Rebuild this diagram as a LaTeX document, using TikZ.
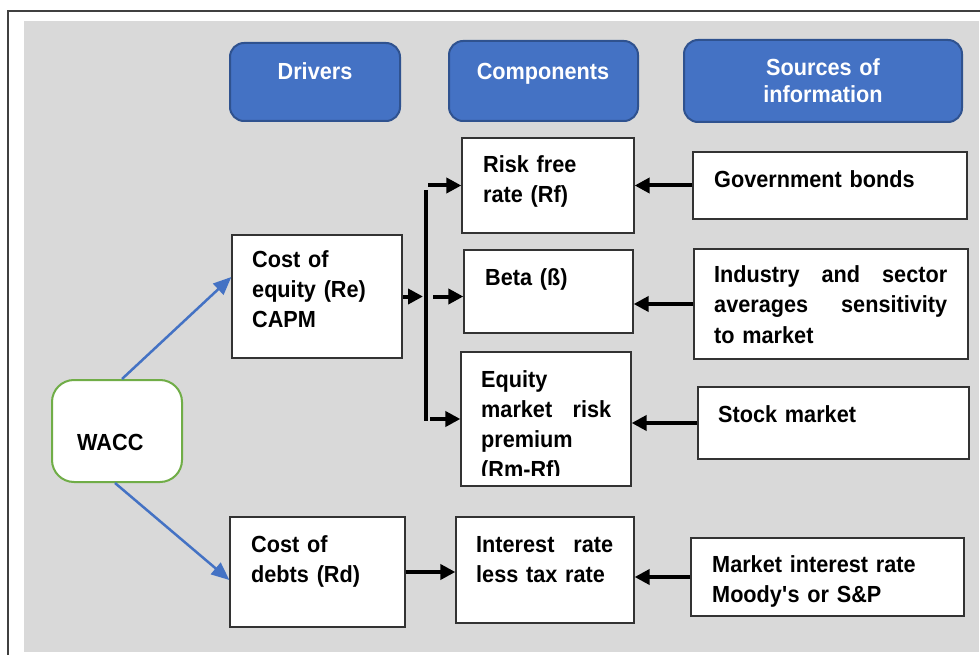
\documentclass[tikz,border=0pt]{standalone}
\usepackage{fontspec}
\setmainfont{Liberation Sans}[FakeStretch=0.93]
\usepackage{tikz}
\usetikzlibrary{arrows.meta}
\definecolor{hdrblue}{HTML}{4472C4}
\definecolor{hdredge}{HTML}{2F528F}
\definecolor{bggray}{HTML}{D9D9D9}
\definecolor{waccgreen}{HTML}{70AD47}
\definecolor{framegray}{HTML}{404040}
\tikzset{
  hdr/.style={draw=hdredge, line width=2pt, fill=hdrblue, rounded corners=14pt},
  box/.style={draw=black!80, line width=1.3pt, fill=white},
  sz/.style 2 args={minimum width=#1pt, minimum height=#2pt, inner sep=0pt},
  txt/.style={anchor=base west, inner sep=0pt, align=left, text width=240pt,
    font=\fontsize{23.3}{30}\selectfont\bfseries},
  hdrtxt/.style={anchor=base, inner sep=0pt, align=center, text=white, text width=260pt,
    font=\fontsize{23.3}{27}\selectfont\bfseries},
  arr/.style={line width=4pt, -{Triangle[length=15pt,width=15pt]}},
  bluearr/.style={draw=hdrblue, line width=2.5pt, -{Triangle[length=18pt,width=15pt]}}
}
\begin{document}
\begin{tikzpicture}[x=1pt,y=-1pt]

  \useasboundingbox (0,0) rectangle (980,655);
  \fill [bggray] (24,21) rectangle (979,652);
  \draw [framegray, line width=1.5pt] (8,655) -- (8,11) -- (980,11);

  \node [hdr, sz={170}{78}] (drv) at (315,82) {};
  \node [hdr, sz={189}{80}] (cmp) at (543.5,81) {};
  \node [hdr, sz={278}{82}] (src) at (823,81) {};
  \node [hdrtxt] (drv-t) at (315,80) {Drivers};
  \node [hdrtxt] (cmp-t) at (543,80) {Components};
  \node [hdrtxt] (src-t) at (823,76) {Sources of\\information};

  \node [box, sz={130}{102}, draw=waccgreen, line width=2pt, rounded corners=22pt] (wacc) at (117,431) {};
  \node [txt, text width=100pt] (wacc-t) at (77,450) {WACC};

  \node [box, sz={170}{123}] (ce) at (317,296.5) {};
  \node [txt, text width=145pt] (ce-t) at (252,268) {Cost of\\equity (Re)\\CAPM};
  \node [box, sz={175}{110}] (cd) at (317.5,572) {};
  \node [txt, text width=145pt] (cd-t) at (251,552) {Cost of\\debts (Rd)};

  \node [box, sz={172}{95}] (rf) at (548,185.5) {};
  \node [txt, text width=140pt] (rf-t) at (483,173) {Risk free\\rate (Rf)};
  \node [box, sz={169}{83}] (beta) at (548.5,291.5) {};
  \node [txt, text width=140pt] (beta-t) at (485,285) {Beta (ß)};
  \node [box, sz={170}{134}] (erp) at (546,419) {};
  \begin{scope}
    \clip (erp.north west) rectangle ([yshift=11pt]erp.south east);
    \node [txt, text width=130pt] (erp-t) at (481,387)
      {Equity\\market\hfill risk\\premium\\(Rm-Rf)};
  \end{scope}
  \node [box, sz={178}{106}] (int) at (545,570) {};
  \node [txt, text width=137pt] (int-t) at (476,552) {Interest\hfill rate\\less tax rate};

  \node [box, sz={274}{67}] (gov) at (830,185.5) {};
  \node [txt] (gov-t) at (714,188) {Government bonds};
  \node [box, sz={274}{110}] (ind) at (831,304) {};
  \node [txt, text width=233pt] (ind-t) at (714,283)
    {Industry\hfill and\hfill sector\\averages\hfill sensitivity\\to market};
  \node [box, sz={271}{72}] (stock) at (833.5,423) {};
  \node [txt] (stock-t) at (718,422) {Stock market};
  \node [box, sz={273}{78}] (mir) at (827.5,577) {};
  \node [txt] (mir-t) at (712,572) {Market interest rate\\Moody\textquotesingle s or S\&P};

  \draw [bluearr] ([xshift=5pt]wacc.north) -- ([yshift=19.5pt]ce.west);
  \draw [bluearr] ([xshift=-2pt]wacc.south) -- ([yshift=-8pt]cd.west);

  \coordinate (bustop) at (426,190);
  \coordinate (busbot) at (426,421);
  \draw [line width=4pt] (bustop) -- (busbot);
  \draw [arr] (ce.east) -- ([xshift=-3pt]bustop |- ce.east);
  \draw [arr] ([xshift=2pt]bustop |- rf.west) -- (rf.west);
  \draw [arr] ([xshift=7pt]bustop |- ce.east) -- (beta.west |- ce.east);
  \draw [arr] ([xshift=4pt]bustop |- erp.west) -- (erp.west);

  \draw [arr] (gov.west) -- (rf.east);
  \draw [arr] (ind.west) -- (beta.east |- ind.west);
  \draw [arr] (stock.west) -- (erp.east |- stock.west);
  \draw [arr] (mir.west) -- (int.east |- mir.west);
  \draw [arr] (cd.east) -- (int.west |- cd.east);

\end{tikzpicture}
\end{document}
